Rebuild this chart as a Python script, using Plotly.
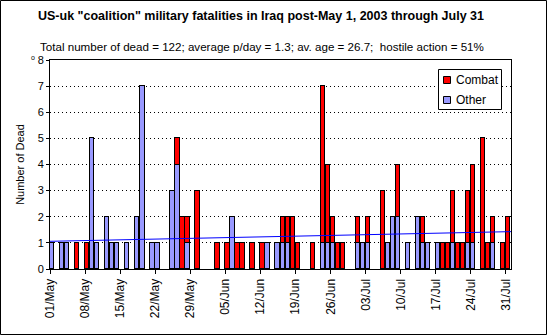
import plotly.graph_objects as go
import pandas as pd

dates = pd.date_range("2003-05-01", "2003-07-31", freq="D")
day_index = list(range(len(dates)))

other = ([1,0,1,1,0,0,0,0,5,1,0,2,1,1,0,1,0,2,7,0,1,1,0,0,3,4,0,1,0,0,0] +
         [0,0,0,0,0,2,0,0,0,0,0,0,1,0,1,1,1,0,0,0,0,0,0,1,1,1,0,0,0,0] +
         [1,1,1,0,0,0,1,2,2,0,1,0,2,1,1,0,1,0,0,1,0,0,1,1,0,0,0,1,0,0,0])
combat = ([0,0,0,0,0,1,0,1,0,0,0,0,0,0,0,0,0,0,0,0,0,0,0,0,0,1,2,1,0,3,0] +
          [0,0,1,0,1,0,1,1,0,1,0,1,0,0,0,1,1,2,1,0,0,1,0,6,3,1,1,1,0,0] +
          [1,0,1,0,0,3,0,0,2,0,0,0,0,1,0,0,0,1,1,2,1,1,2,3,0,5,1,1,0,1,2])
trend_days = [0, 92]
trend_values = [1.06, 1.43]

series_names = ["Combat", "Other"]
series_colors = ["#FF0000", "#9999FF"]

tick_days = list(range(0, 92, 7))
tick_labels = [dates[i].strftime("%d/%b") for i in tick_days]

FONT = "Arial, Liberation Sans, sans-serif"

def nz(v):
    return [x if x else None for x in v]

fig = go.Figure()
fig.add_trace(go.Bar(x=day_index, y=nz(other), name="Other", offset=0, width=0.86,
                     marker=dict(color=series_colors[1], line=dict(color="black", width=1))))
fig.add_trace(go.Bar(x=day_index, y=nz(combat), name="Combat", offset=0, width=0.86,
                     marker=dict(color=series_colors[0], line=dict(color="black", width=1))))
fig.add_trace(go.Scatter(x=trend_days, y=trend_values, mode="lines", showlegend=False,
                         line=dict(color="#0000FF", width=1), hoverinfo="skip"))

W, H = 547, 335
L, R, T, B = 50, 36, 60, 66
pw, ph = W - L - R, H - T - B

def px(x):
    return (x - L) / pw

def py(y):
    return (H - B - y) / ph

annotations = [
    dict(text='<b>US-uk "coalition" military fatalities in Iraq post-May 1, 2003 through July 31</b>',
         x=px(261), y=py(16), xref="paper", yref="paper", showarrow=False,
         xanchor="center", yanchor="middle", font=dict(size=12.5)),
    dict(text="Total number of dead = 122; average p/day = 1.3; av. age = 26.7;  hostile action = 51%",
         x=px(261.5), y=py(46), xref="paper", yref="paper", showarrow=False,
         xanchor="center", yanchor="middle", font=dict(size=11.6)),
    dict(text="o", x=px(33), y=py(57), xref="paper", yref="paper", showarrow=False,
         xanchor="center", yanchor="middle", font=dict(size=7)),
]
shapes = [
    dict(type="rect", xref="paper", yref="paper",
         x0=px(0.5), x1=px(W - 0.5), y0=py(H - 0.5), y1=py(0.5),
         line=dict(color="black", width=1), layer="above"),
    # legend box
    dict(type="rect", xref="paper", yref="paper",
         x0=px(438.5), x1=px(501.5), y0=py(109.5), y1=py(69.5),
         line=dict(color="black", width=1), fillcolor="white", layer="above"),
]
for i, (name, col) in enumerate(zip(series_names, series_colors)):
    cy = 80 + 20 * i
    shapes.append(dict(type="rect", xref="paper", yref="paper",
                       x0=px(443.5), x1=px(450.5), y0=py(cy + 3.5), y1=py(cy - 3.5),
                       line=dict(color="black", width=1), fillcolor=col, layer="above"))
    annotations.append(dict(text=name, x=px(454), y=py(cy), xref="paper", yref="paper",
                            showarrow=False, xanchor="left", yanchor="middle",
                            font=dict(size=12)))

fig.update_layout(
    width=W, height=H,
    margin=dict(l=L, r=R, t=T, b=B),
    paper_bgcolor="white", plot_bgcolor="white",
    barmode="stack", bargap=0,
    font=dict(family=FONT, size=11, color="black"),
    showlegend=False,
    xaxis=dict(range=[0, 92], tickvals=tick_days, ticktext=tick_labels, tickangle=-90,
               showgrid=False, showline=True, linecolor="black", linewidth=1, mirror=True,
               ticks="outside", ticklen=4, tickcolor="black", zeroline=False,
               tickfont=dict(size=12)),
    yaxis=dict(range=[0, 8], dtick=1, showgrid=True, gridcolor="black", griddash="1px,3px",
               gridwidth=1, showline=True, linecolor="black", linewidth=1, mirror=True,
               ticks="outside", ticklen=3, tickcolor="black", zeroline=False,
               title=dict(text="Number of Dead", font=dict(size=11), standoff=10),
               tickfont=dict(size=11)),
    annotations=annotations,
    shapes=shapes,
)

fig.write_html("out.html")
